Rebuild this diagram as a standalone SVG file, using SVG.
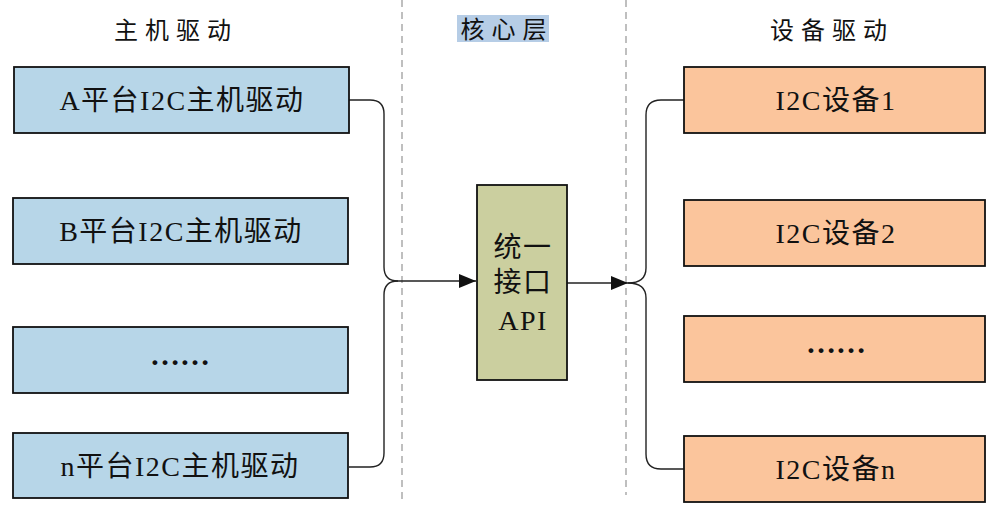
<svg xmlns="http://www.w3.org/2000/svg" width="1004" height="518" viewBox="0 0 1004 518">
<style>
.t{font-family:"Liberation Serif","Noto Sans CJK SC",serif;fill:#111;text-anchor:middle}
.hd{font-size:24px;letter-spacing:7px}
.bx{font-size:28px;letter-spacing:1.5px}
.dots{font-size:30px;font-weight:bold;letter-spacing:0}
.host rect{fill:#b7d6e8;stroke:#111;stroke-width:1.8}
.dev rect{fill:#fbc59c;stroke:#111;stroke-width:1.8}
.core rect{fill:#cbcf9f;stroke:#111;stroke-width:1.8}
.div{stroke:#b0b0b0;stroke-width:1.6;stroke-dasharray:7 5;fill:none}
.ln{fill:none;stroke:#222;stroke-width:1.4}
</style>
<defs>
<marker id="ah" markerWidth="17" markerHeight="14" refX="17" refY="7" orient="auto" markerUnits="userSpaceOnUse">
<path d="M0,0 L17,7 L0,14 Z" fill="#111"/>
</marker>
</defs>
<rect width="1004" height="518" fill="#fff"/>
<g id="dividers">
<line class="div" x1="402" y1="0" x2="402" y2="502"/>
<line class="div" x1="626" y1="0" x2="626" y2="495"/>
</g>
<g id="headers">
<text class="t hd" x="176" y="39">主机驱动</text>
<rect x="457" y="15" width="92" height="27" fill="#b6cde6"/>
<text class="t hd" x="507" y="38">核心层</text>
<text class="t hd" x="832" y="39">设备驱动</text>
</g>
<g id="connectors">
<path class="ln" d="M349,100 H370 Q384,100 384,114 V267 Q384,281 398,281 H476" marker-end="url(#ah)"/>
<path class="ln" d="M349,467 H370 Q384,467 384,453 V295 Q384,281 398,281"/>
<path class="ln" d="M567,283 H628" marker-end="url(#ah)"/>
<path class="ln" d="M628,283 Q646,283 646,268 V115 Q646,100 661,100 H684"/>
<path class="ln" d="M628,283 Q646,283 646,298 V454 Q646,469 661,469 H684"/>
</g>
<g id="hostA" class="host">
<rect x="14" y="67" width="335" height="66"/>
<text class="t bx" x="182" y="110">A平台I2C主机驱动</text>
</g>
<g id="hostB" class="host">
<rect x="13" y="198" width="335" height="66"/>
<text class="t bx" x="181" y="241">B平台I2C主机驱动</text>
</g>
<g id="hostDots" class="host">
<rect x="13" y="327" width="335" height="66"/>
<text class="t dots" x="180" y="365">……</text>
</g>
<g id="hostN" class="host">
<rect x="13" y="433" width="335" height="65"/>
<text class="t bx" x="180" y="476">n平台I2C主机驱动</text>
</g>
<g id="core" class="core">
<rect x="477" y="185" width="90" height="195"/>
<text class="t bx" x="523" y="257">统一</text>
<text class="t bx" x="523" y="292">接口</text>
<text class="t bx" x="523" y="330">API</text>
</g>
<g id="dev1" class="dev">
<rect x="684" y="67" width="301" height="66"/>
<text class="t bx" x="836" y="110">I2C设备1</text>
</g>
<g id="dev2" class="dev">
<rect x="684" y="200" width="301" height="66"/>
<text class="t bx" x="836" y="243">I2C设备2</text>
</g>
<g id="devDots" class="dev">
<rect x="684" y="316" width="301" height="66"/>
<text class="t dots" x="836" y="353">……</text>
</g>
<g id="devN" class="dev">
<rect x="684" y="436" width="301" height="66"/>
<text class="t bx" x="836" y="479">I2C设备n</text>
</g>
</svg>
